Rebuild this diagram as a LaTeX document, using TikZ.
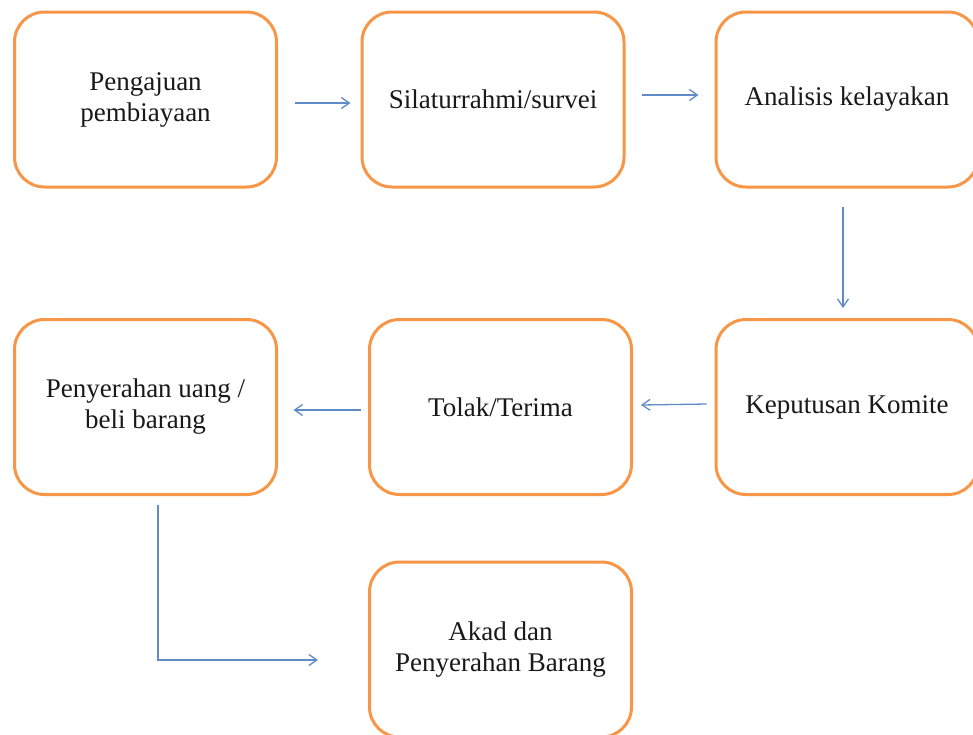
\documentclass[tikz,border=0pt]{standalone}
\usepackage{fontspec}
\setmainfont{Liberation Serif}
\usetikzlibrary{arrows.meta}
\definecolor{boxorange}{HTML}{F79646}
\definecolor{arrblue}{HTML}{5F8BC8}
\begin{document}
\begin{tikzpicture}[x=1pt,y=-1pt,
  stepbox/.style={draw=boxorange,line width=3pt,rounded corners=30pt,fill=white,
    minimum width=262pt,minimum height=175pt,inner sep=0pt,align=center,
    font=\fontsize{27}{31}\selectfont,text=black!90},
  arr/.style={draw=arrblue,line width=1.3pt,-{Straight Barb[length=8pt,width=11pt,line width=1.3pt]}}]
\useasboundingbox[fill=white] (0,0) rectangle (973,734);
\node[stepbox] (b1) at (145.5,99.5) {Pengajuan\\pembiayaan};
\node[stepbox] (b2) at (493,99.5) {Silaturrahmi/survei};
\node[stepbox] (b3) at (847,99.5) {Analisis kelayakan};
\node[stepbox] (b4) at (847,407) {Keputusan Komite};
\node[stepbox] (b5) at (500.5,407) {Tolak/Terima};
\node[stepbox] (b6) at (145.5,407) {Penyerahan uang /\\beli barang};
\node[stepbox] (b7) at (500.5,649.5) {Akad dan\\Penyerahan Barang};
\draw[arr] ([xshift=17pt,yshift=-3.5pt]b1.east) -- ([xshift=-10pt,yshift=-3.5pt]b2.west);
\draw[arr] ([xshift=16pt,yshift=4.5pt]b2.east) -- ([xshift=-16pt,yshift=4.5pt]b3.west);
\draw[arr] ([xshift=-4pt,yshift=-18pt]b3.south) -- ([xshift=-4pt,yshift=10pt]b4.north);
\draw[arr] ([xshift=-8pt,yshift=3pt]b4.west) -- ([xshift=8pt,yshift=2pt]b5.east);
\draw[arr] ([xshift=-7pt,yshift=-3pt]b5.west) -- ([xshift=15.5pt,yshift=-3pt]b6.east);
\coordinate (e6) at (318,660);
\draw[arr] ([xshift=12.5pt,yshift=-9pt]b6.south) |- (e6);
\end{tikzpicture}
\end{document}
